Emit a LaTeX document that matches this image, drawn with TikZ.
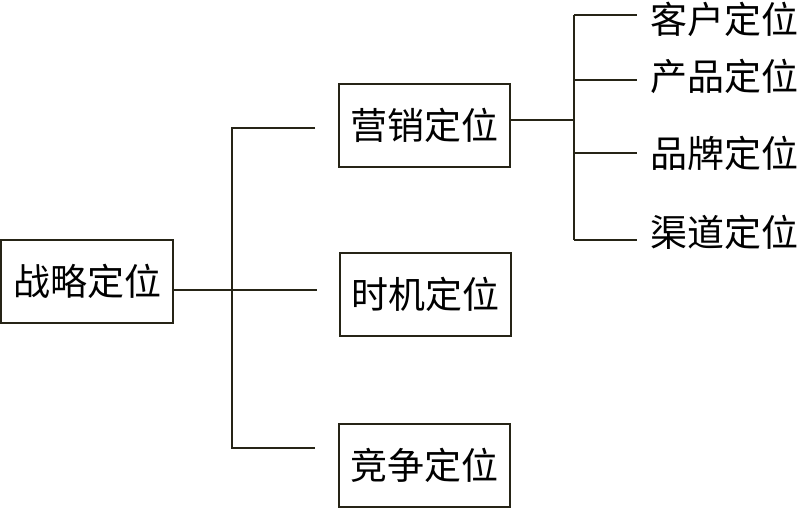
\documentclass[tikz,border=0pt]{standalone}
\usepackage{fontspec}
\newfontfamily\cjk{Noto Sans CJK SC}
\definecolor{ln}{RGB}{38,36,22}
\begin{document}
\begin{tikzpicture}[x=1pt,y=-1pt,
  box/.style={draw=ln,line width=2pt,rectangle,minimum width=#1,minimum height=83pt,inner sep=0pt,font=\cjk\fontsize{37}{42}\selectfont,text=black},
  box/.default=171pt,
  leaf/.style={anchor=west,inner sep=0pt,font=\cjk\fontsize{37}{42}\selectfont,text=black},
  conn/.style={draw=ln,line width=2pt}]
\fill[white] (0,0) rectangle (800,508);
\useasboundingbox (0,0) rectangle (800,508);
\node[box=172pt] (zl) at (87,281) {战略定位};
\node[box] (yx) at (424,125.5) {营销定位};
\node[box] (sj) at (425,294.5) {时机定位};
\node[box] (jz) at (424.5,465) {竞争定位};
\node[leaf] (kh) at (650,19) {客户定位};
\node[leaf] (cp) at (650,76) {产品定位};
\node[leaf] (pp) at (650,153) {品牌定位};
\node[leaf] (qd) at (650,232) {渠道定位};
% left tree
\coordinate (tTop) at (232,128);
\coordinate (tMid) at (232,290);
\coordinate (tBot) at (232,448);
\coordinate (eTop) at (315,128);
\coordinate (eMid) at (317,290);
\coordinate (eBot) at (315,448);
\draw[conn] (zl.east |- tMid) -- (eMid);
\draw[conn] (eTop) -- (tTop) -- (tBot) -- (eBot);
% right tree
\coordinate (rTrunk) at (574,120);
\coordinate (r1) at (574,15);
\coordinate (r4) at (574,240);
\coordinate (r2) at (574,80);
\coordinate (r3) at (574,153);
\draw[conn] (yx.east |- rTrunk) -- (rTrunk);
\draw[conn] (r1) -- (r4);
\draw[conn] (r1) -- ([xshift=-13pt]kh.west |- r1);
\draw[conn] (r2) -- ([xshift=-13pt]cp.west |- r2);
\draw[conn] (r3) -- ([xshift=-13pt]pp.west |- r3);
\draw[conn] (r4) -- ([xshift=-13pt]qd.west |- r4);
\end{tikzpicture}
\end{document}
